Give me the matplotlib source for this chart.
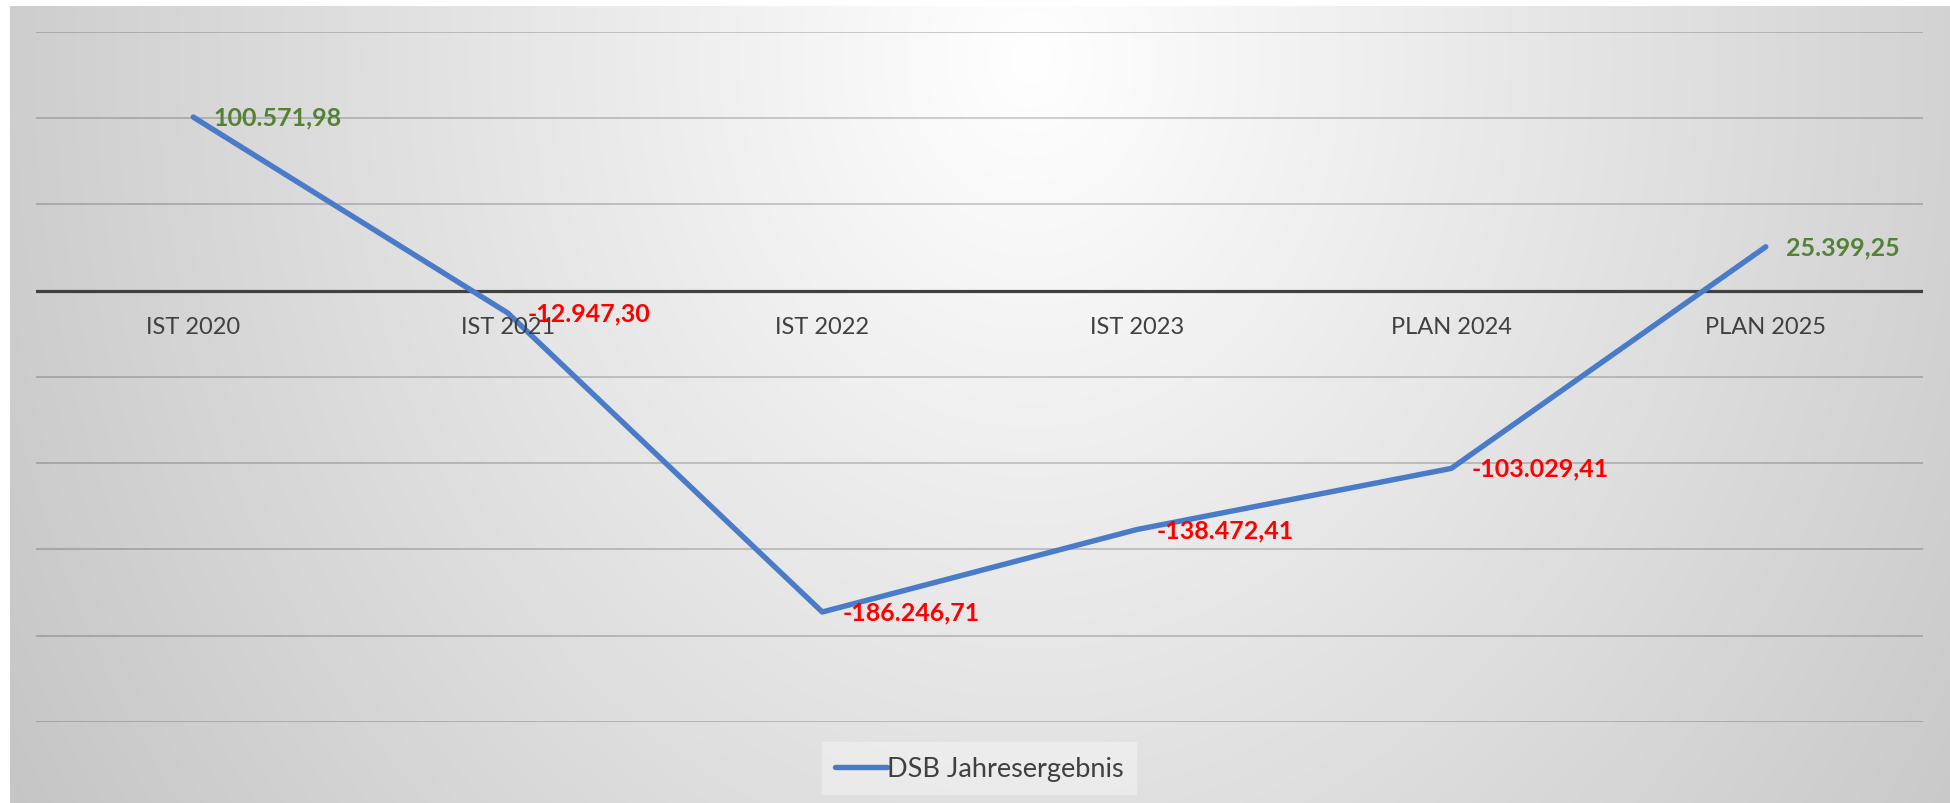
import numpy as np
import matplotlib
matplotlib.use("Agg")
import matplotlib.pyplot as plt

# ---- data ----
categories = ["IST 2020", "IST 2021", "IST 2022", "IST 2023", "PLAN 2024", "PLAN 2025"]
values = [100571.98, -12947.30, -186246.71, -138472.41, -103029.41, 25399.25]
label_texts = ["100.571,98", "-12.947,30", "-186.246,71", "-138.472,41", "-103.029,41", "25.399,25"]
series_name = "DSB Jahresergebnis"
y_ticks = [-250000, -200000, -150000, -100000, -50000, 0, 50000, 100000, 150000]

W, H = 1950, 804
fig = plt.figure(figsize=(W / 100, H / 100), dpi=100)
fig.patch.set_facecolor("white")
plt.rcParams["font.family"] = ["Lato", "DejaVu Sans"]

# ---- background radial gradient ----
bx0, by0 = 10, 7
bg = fig.add_axes([bx0 / W, 0, 1 - bx0 / W, 1 - by0 / H])
bg.set_axis_off()
xs = np.arange(bx0, W)
ys = np.arange(by0, H)
X, Y = np.meshgrid(xs, ys)
cx, cy = 1030, 60
r = np.sqrt(((X - cx) / 1100.0) ** 2 + ((Y - cy) / 1300.0) ** 2)
r = np.clip(r, 0, 1.1)
g = (255 - 53 * r) / 255.0
img = np.dstack([g, g, g])
bg.imshow(img, aspect="auto", extent=[0, 1, 0, 1], origin="upper")
bg.set_xlim(0, 1)
bg.set_ylim(0, 1)

# ---- main axes ----
left, right = 36, 1923
top, bottom = 32.8, 723
ax = fig.add_axes([left / W, 1 - bottom / H, (right - left) / W, (bottom - top) / H])
ax.patch.set_alpha(0)
for s in ax.spines.values():
    s.set_visible(False)

x = np.arange(len(categories))
ax.set_xlim(-0.5, len(categories) - 0.5)
ax.set_ylim(y_ticks[0], y_ticks[-1])
ax.set_yticks(y_ticks)
ax.set_yticklabels([])
ax.set_xticks([])
ax.tick_params(length=0)
ax.grid(axis="y", color="black", alpha=0.2, linewidth=1.3)
ax.set_axisbelow(True)
ax.axhline(0, color="#404040", linewidth=2.3, zorder=2)

line, = ax.plot(x, values, color="#4A7BC8", linewidth=3.9, solid_capstyle="round",
                solid_joinstyle="round", zorder=3, label=series_name)

# category labels just below the zero line
for i, c in enumerate(categories):
    ax.annotate(c, xy=(i, 0), xytext=(0, -36), textcoords="offset pixels",
                ha="center", va="center", fontsize=17, color="#404040", zorder=4)

# data labels
for i, (v, t) in enumerate(zip(values, label_texts)):
    col = "#548235" if v >= 0 else "#FF0000"
    ax.annotate(t, xy=(i, v), xytext=(20, 0), textcoords="offset pixels",
                ha="left", va="center", fontsize=18, fontweight="bold", color=col, zorder=5)

# legend
leg = fig.legend(handles=[line], labels=[series_name], loc="center",
                 bbox_to_anchor=(979.5 / W, 1 - 769.5 / H), frameon=True,
                 fontsize=19.5, handlelength=1.9, handletextpad=0.0,
                 borderpad=0.5, borderaxespad=0, fancybox=False)
leg.get_frame().set_facecolor("white")
leg.get_frame().set_alpha(0.35)
leg.get_frame().set_edgecolor("none")
for t in leg.get_texts():
    t.set_color("#404040")

fig.savefig("out.png", dpi=100)
